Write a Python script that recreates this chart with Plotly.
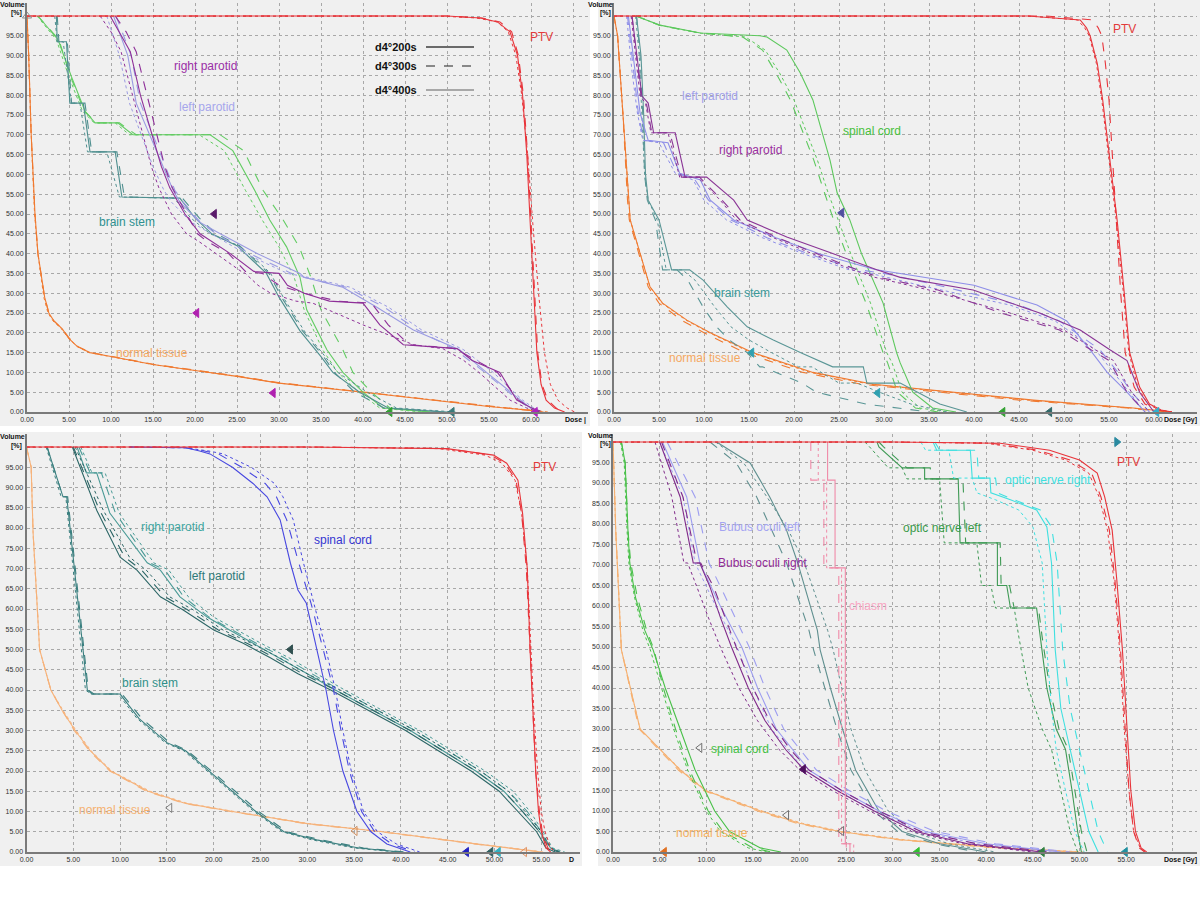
import plotly.graph_objects as go

W, H = 1200, 900
FONT = "Liberation Sans, Arial, sans-serif"

# ======================= PANEL 1 (top-left) =======================
P1_PTV_V = [100, 100, 99.5, 98.5, 96, 90, 80, 65, 48, 30, 15, 7, 3, 1, 0]
P1_PTV_D200 = [0, 50, 54, 56, 57.5, 58.4, 59.0, 59.5, 59.9, 60.3, 60.7, 61.2, 61.8, 62.8, 64]
P1_PTV_D300 = [0, 50, 54.2, 56.3, 57.7, 58.5, 59.1, 59.6, 60.0, 60.4, 60.8, 61.3, 62.0, 63.0, 64]
P1_PTV_D400 = [0, 49, 53.5, 56, 57.3, 58.2, 58.9, 59.6, 60.2, 60.9, 61.6, 62.3, 63.2, 64.3, 65.2]

P1_NT_V = [100, 90, 70, 50, 40, 33, 29, 25, 23, 21, 18.5, 16.5, 15, 14, 12, 10.5, 9, 7.3, 6.2, 5, 3.8, 2.6, 1.4, 0.4, 0]
P1_NT_D200 = [0, 0.2, 0.5, 0.95, 1.3, 1.8, 2.1, 2.6, 3.2, 4.2, 5.0, 6.0, 7.5, 10, 15, 20, 25, 30, 35, 40, 45, 50, 55, 60, 61]
P1_NT_D300 = [0, 0.2, 0.5, 0.95, 1.3, 1.8, 2.1, 2.6, 3.2, 4.2, 5.1, 6.1, 7.6, 10.2, 15.2, 20.2, 25.3, 30.3, 35.3, 40.3, 45.3, 50.3, 55.3, 60.2, 61.5]
P1_NT_D400 = [0, 0.2, 0.5, 0.9, 1.3, 1.7, 2.0, 2.5, 3.1, 4.1, 5.0, 6.0, 7.4, 9.9, 14.9, 19.9, 25.0, 30.0, 35.2, 40.2, 45.2, 50.2, 55.2, 60.4, 62]

P1_BS_V = [100, 93.5, 93.5, 78, 78, 65.7, 65.7, 54.3, 54, 49, 45, 42, 38, 35, 29, 20.5, 14, 10, 5, 1, 0]
P1_BS_D200 = [3.5, 3.6, 4.7, 5.1, 6.7, 7.5, 10.5, 11.3, 18.2, 20, 22, 25, 27, 28.5, 30, 32.5, 35, 36.4, 39.6, 43, 50]
P1_BS_D300 = [3.6, 3.8, 4.8, 5.3, 6.9, 7.7, 10.7, 11.6, 18.5, 20.5, 22.5, 25.3, 27.3, 28.8, 30.3, 32.8, 35.3, 36.6, 39, 42.5, 50]
P1_BS_D400 = [3.3, 3.6, 4.3, 5.3, 6.3, 7.2, 9.5, 11.0, 17.5, 19.5, 21.8, 25.2, 27.5, 29, 30.5, 33, 35.5, 37, 40.5, 44, 51]

P1_RP_V = [100, 96, 91, 80, 70, 62, 56.6, 50, 45, 43, 40, 35.5, 35, 32, 30, 28, 27.5, 22, 17, 16.5, 16, 13, 10, 3, 1, 0]
P1_RP_D200 = [9.9, 11, 12.3, 13.5, 14.9, 16, 17, 18.8, 20.6, 22, 24.2, 27, 30, 31, 33, 36, 40, 42, 44.8, 48, 51.2, 53, 56.3, 58.3, 60, 61]
P1_RP_D300 = [10.5, 11.8, 13, 14.3, 15.5, 16.4, 17.3, 19, 20.3, 21.5, 24, 26, 28, 30, 33, 37, 41, 43, 45.5, 48.5, 51, 53.5, 56, 58.5, 60, 61.5]
P1_RP_D400 = [8.7, 10, 11.2, 12.6, 13.8, 14.8, 15.7, 17.2, 19, 20.5, 22.5, 25.5, 26, 27.5, 29, 32, 34, 40, 46, 47.5, 49.5, 52, 53.8, 57.5, 59.5, 61]

P1_LP_V = [100, 90, 78, 70, 62, 56, 53, 48, 45, 40, 35, 34, 31.5, 26.5, 20.7, 15.7, 10, 3, 0]
P1_LP_D200 = [10.3, 12, 13, 14.6, 16.2, 17.4, 18.2, 20.5, 23, 27.4, 32.5, 33, 37.6, 41.6, 46, 51.5, 54.7, 58.7, 60.5]
P1_LP_D300 = [10.6, 12.4, 13.5, 15.0, 16.5, 17.6, 18.6, 20.6, 22.5, 26.5, 31.5, 33, 38, 42.5, 46.5, 51, 54.5, 58.5, 60.5]
P1_LP_D400 = [9.5, 11, 12.2, 13.6, 15, 16.3, 17.2, 19.5, 22, 26, 31, 33.5, 38.5, 43, 47, 52, 55.5, 59, 61]

P1_SC_V = [100, 94, 84.6, 76, 73, 73, 70, 70, 66, 56, 48.5, 41.7, 34, 25.8, 15.7, 10, 5, 1, 0]
P1_SC_D200 = [1.3, 3.7, 5.3, 6.9, 8.1, 10.8, 12.6, 21.8, 24.5, 27.1, 28.9, 30.9, 32.5, 33.3, 35.7, 37.6, 40, 42.4, 48]
P1_SC_D300 = [1.3, 3.8, 5.2, 6.8, 8.3, 11, 13, 23, 25.8, 28.1, 30.5, 32.4, 33.8, 35, 37.6, 38.8, 41, 43.2, 48]
P1_SC_D400 = [1.2, 3.5, 5, 6.6, 8, 10.5, 12.2, 20.5, 23.5, 26, 28, 30, 31.8, 33, 35.2, 37, 39.5, 42, 47]

P1_MK_D = [22.3, 20.2, 29.3, 43.2, 50.6, 60.5]
P1_MK_V = [50, 25, 4.8, 0, 0, 0]
P1_MK_C = ["#5a1a6a", "#b020b0", "#b020b0", "#30a030", "#3a7a7a", "#b020c0"]

# ======================= PANEL 2 (top-right) =======================
P2_PTV_V = [100, 100, 99, 97, 95, 88, 78.8, 63.6, 48.5, 30, 15, 6.3, 2, 0.5, 0]
P2_PTV_D200 = [0, 46, 51.8, 52.5, 52.9, 53.7, 54.3, 55.1, 55.9, 56.7, 57.3, 58.4, 59.5, 60.8, 62]
P2_PTV_D300 = [0, 48, 53.2, 53.8, 54.2, 54.6, 55.0, 55.4, 55.8, 56.3, 56.8, 57.8, 59, 60.5, 61.5]
P2_PTV_D400 = [0, 46, 51.5, 52.3, 52.8, 53.6, 54.2, 55, 55.8, 56.6, 57.2, 58.2, 59.3, 60.6, 62]

P2_SC_V = [100, 99.5, 97.7, 95.7, 95, 94.7, 91.4, 85.6, 78.8, 70.5, 63.6, 55.3, 48.5, 40, 27.5, 15, 12.4, 5, 1, 0]
P2_SC_D200 = [2.5, 3.0, 5.1, 9.6, 16.2, 17, 19.2, 20.7, 22.1, 23.1, 24, 24.8, 26.2, 27.5, 29.9, 31.4, 31.8, 33.2, 35.4, 38]
P2_SC_D300 = [2.5, 3.0, 5.0, 9.5, 13.5, 14.3, 16.5, 18, 19.6, 21, 22.2, 23.4, 24.4, 25.8, 28, 29.9, 30.4, 31.5, 33.5, 36]
P2_SC_D400 = [2.5, 3.0, 5.0, 9.5, 13.8, 14.6, 16.8, 18.4, 20, 21.4, 22.6, 23.8, 24.9, 26.3, 28.5, 30.3, 30.9, 32, 34, 37]

P2_LP_V = [100, 86, 75.5, 68.6, 68, 60.3, 58.6, 53.5, 48.5, 44, 40, 36, 35, 32, 27, 23, 15.7, 10, 5, 0]
P2_LP_D200 = [1.6, 2.3, 2.9, 3.8, 6, 7.3, 9.6, 10.7, 13.3, 18, 22.7, 29, 31.8, 40, 47, 50.3, 52.9, 54.8, 57, 59]
P2_LP_D300 = [1.5, 2.2, 2.7, 3.3, 5.5, 7, 9, 10.5, 13, 17, 21.5, 27, 30, 36, 45, 49.5, 54, 56, 57.5, 59.5]
P2_LP_D400 = [1.4, 2.0, 2.6, 3.2, 5, 6.8, 8.8, 10, 12.5, 16.5, 21, 26, 28.5, 34, 44, 49, 53.5, 55.5, 57.2, 59]

P2_RP_V = [100, 79.8, 78, 70.5, 70.5, 59.3, 59.3, 53.5, 48.5, 44.2, 40, 35.9, 34, 30.8, 25, 20.7, 15.7, 13, 5, 0]
P2_RP_D200 = [2, 3.1, 3.8, 4.4, 6.8, 7.9, 10.3, 13.3, 14.8, 19.2, 24.3, 29.2, 31.8, 39.9, 47.3, 51.8, 55.1, 57, 58.4, 60]
P2_RP_D300 = [2, 3.0, 3.6, 4.2, 6.2, 7.5, 9.5, 12, 14, 18, 22.5, 27, 29.5, 36, 43, 49.5, 53, 55, 57, 59]
P2_RP_D400 = [1.9, 2.9, 3.5, 4.1, 6, 7.3, 9.3, 11.8, 13.6, 17.5, 22, 26.5, 29, 35, 44, 50, 53.5, 55.5, 57.5, 59.5]

P2_BS_V = [100, 90, 75, 60, 53.5, 48.5, 35.9, 35.9, 33.3, 26.5, 21.5, 18.2, 15, 11.4, 11.4, 7.3, 7.3, 5, 2, 0]
P2_BS_D200 = [2.5, 3.0, 3.3, 3.5, 3.8, 5.0, 6.4, 8.4, 9.9, 12.6, 14.8, 17.7, 20.7, 24.3, 27.7, 28.1, 31.8, 33.7, 36.2, 39.2]
P2_BS_D300 = [2.5, 2.9, 3.2, 3.4, 3.7, 4.6, 5.4, 7.0, 8.2, 9.9, 11.4, 12.8, 14.8, 16.2, 16.5, 20.7, 20.9, 22.5, 28, 35]
P2_BS_D400 = [2.4, 2.8, 3.1, 3.4, 3.8, 4.8, 5.8, 7.6, 9.0, 11.2, 13, 15, 17.5, 20.5, 22, 25, 27, 29.5, 33, 37]

P2_NT_V = [100, 95, 75, 53.5, 48.5, 31.6, 27.5, 23.2, 20, 15, 10, 7, 6.3, 3, 1, 0]
P2_NT_D200 = [0, 0.4, 1.0, 1.6, 1.8, 4, 5.4, 8.1, 10.7, 15.4, 22.1, 28.8, 31.8, 46.6, 57.7, 62]
P2_NT_D300 = [0, 0.4, 1.0, 1.5, 1.7, 3.8, 5.0, 7.5, 10.0, 14.5, 21, 27.5, 30.5, 45, 57, 61.5]
P2_NT_D400 = [0, 0.4, 1.0, 1.6, 1.8, 4, 5.3, 8, 10.6, 15.2, 21.8, 28.5, 31.5, 46, 57.5, 62]

P2_MK_D = [25.3, 15.3, 29.3, 43.2, 48.4, 60.3]
P2_MK_V = [50.3, 15, 4.8, 0, 0, 0]
P2_MK_C = ["#5050a0", "#30a0b0", "#30a0b0", "#30a030", "#306868", "#30b0d0"]

# ======================= PANEL 3 (bottom-left) =======================
P3_PTV_V = [100, 100, 99.6, 98, 96, 91.8, 83.6, 70, 50, 35, 20, 10, 5, 1, 0]
P3_PTV_D200 = [0, 30, 44.9, 49.9, 51.3, 52.5, 53.0, 53.5, 53.8, 54.1, 54.4, 54.7, 55, 55.5, 56]
P3_PTV_D300 = [0, 32, 45, 49.6, 51.1, 52.3, 52.9, 53.4, 53.8, 54.1, 54.4, 54.8, 55.1, 55.7, 56.2]
P3_PTV_D400 = [0, 30, 44, 49, 50.8, 52.2, 52.9, 53.5, 53.9, 54.2, 54.6, 55, 55.4, 56, 56.5]

P3_SC_V = [100, 99.8, 99, 98.3, 95, 91, 87.7, 82, 71.3, 64.7, 61.4, 50, 40, 30, 20, 10, 5, 2, 0]
P3_SC_D200 = [11, 17, 18.5, 19.6, 22, 24.2, 25.7, 27.1, 28.2, 29, 29.9, 31.0, 32.0, 32.8, 33.8, 35.3, 36.8, 38.5, 41]
P3_SC_D300 = [11, 17, 19, 20.5, 23, 25.5, 26.7, 27.8, 29.1, 30, 30.4, 31.7, 32.8, 33.6, 34.5, 35.8, 37.2, 39, 41.5]
P3_SC_D400 = [11, 17, 19.5, 21, 24, 26.5, 27.4, 28.5, 29.6, 30.3, 30.7, 32, 33, 33.8, 34.7, 36, 37.5, 39.5, 42]

P3_RP_V = [100, 93.6, 93.6, 83.7, 71.4, 69.6, 63, 58, 54.8, 51.6, 48, 44, 40, 35, 30, 25, 20, 15, 10, 5, 1, 0]
P3_RP_D200 = [5.4, 6.4, 7.5, 8.9, 12.9, 14.3, 16.4, 19.3, 21.7, 24.2, 27, 30, 33, 37, 41, 44.5, 48, 51, 53, 54.8, 56, 57]
P3_RP_D300 = [5.6, 6.8, 8, 9.5, 13.2, 14.8, 16.8, 19.5, 22, 24.5, 27.5, 30.5, 33.5, 37.5, 41.5, 45, 48.5, 51.5, 53.5, 55, 56, 57]
P3_RP_D400 = [5.8, 7, 8.4, 9.9, 13.6, 15.2, 17.3, 20, 22.5, 25, 28, 31, 34, 38, 42, 45.5, 49, 52, 53.8, 55.2, 56.2, 57.5]

P3_LP_V = [100, 84.4, 72.8, 69.6, 63, 59.8, 54.8, 51.6, 48, 44, 40, 35, 30, 25, 20, 15, 10, 5, 1, 0]
P3_LP_D200 = [4.9, 7.5, 10, 11.8, 14.3, 16.7, 20, 23.1, 26, 29, 32.5, 36.5, 40.5, 44, 47.5, 50.5, 52.5, 54.5, 55.5, 56.5]
P3_LP_D300 = [5.0, 7.8, 10.5, 12.3, 14.8, 17.2, 20.5, 23.5, 26.5, 29.5, 33, 37, 41, 44.5, 48, 51, 53, 54.8, 55.8, 56.8]
P3_LP_D400 = [5.2, 8.2, 11, 12.8, 15.3, 17.8, 21, 24, 27, 30, 33.5, 37.5, 41.5, 45, 48.5, 51.5, 53.3, 55, 56, 57]

P3_BS_V = [100, 87.7, 87.7, 50, 40, 39, 39, 33, 27, 25, 20, 15, 10, 5, 3, 1, 0]
P3_BS_D200 = [2.2, 3.9, 4.3, 6, 6.5, 7, 10, 12, 15, 17, 19.5, 22, 24.5, 27.5, 31, 35.5, 40]
P3_BS_D300 = [2.2, 3.9, 4.4, 6.1, 6.6, 7.2, 10.2, 12.3, 15.3, 17.2, 19.8, 22.3, 24.8, 27.8, 31.5, 36, 40.5]
P3_BS_D400 = [2.1, 3.7, 4.2, 5.8, 6.3, 6.9, 9.8, 11.8, 14.8, 16.8, 19.3, 21.8, 24.3, 27.3, 30.5, 35, 39.5]

P3_NT_V = [100, 95, 79, 50, 40, 35, 30, 25, 20, 15, 12, 10, 7, 5, 2, 0]
P3_NT_D200 = [0, 0.5, 0.7, 1.4, 2.6, 3.8, 5.2, 6.8, 9, 13, 17, 22, 30, 38, 48, 55]
P3_NT_D300 = [0, 0.5, 0.7, 1.4, 2.6, 3.8, 5.1, 6.7, 8.9, 12.8, 16.8, 21.8, 29.8, 37.8, 47.8, 55]
P3_NT_D400 = [0, 0.5, 0.7, 1.4, 2.6, 3.9, 5.3, 6.9, 9.1, 13.2, 17.2, 22.2, 30.2, 38.2, 48.2, 55.2]

P3_MK_D = [28.2, 15.3, 35.1, 47.0, 49.6, 50.4, 53.2]
P3_MK_V = [50, 10.9, 5.2, 0, 0, 0, 0]
P3_MK_C = ["#305050", "#808080", "#d09060", "#2020c0", "#2f6060", "#30b0c0", "#e09060"]
P3_MK_OPEN = [False, True, True, False, False, False, True]

# ======================= PANEL 4 (bottom-right) =======================
P4_PTV_V = [100, 100, 99.7, 98, 95.6, 92.4, 86.6, 78.5, 66.3, 49.3, 30, 15, 5, 1, 0]
P4_PTV_D200 = [0, 30, 41.5, 46.8, 50, 51.9, 52.7, 53.5, 54, 54.6, 55.1, 55.5, 56, 56.6, 57.2]
P4_PTV_D300 = [0, 30, 40.5, 45.5, 49, 51.3, 52.3, 53.2, 53.8, 54.4, 54.9, 55.3, 55.8, 56.4, 57]
P4_PTV_D400 = [0, 30, 40, 45, 48.5, 51, 52.1, 53, 53.7, 54.3, 54.8, 55.3, 55.8, 56.5, 57]

P4_ONR_V = [100, 98, 98, 91.2, 91.2, 87.6, 85.9, 83.4, 79.3, 70.5, 49.3, 35, 25, 15, 5, 0]
P4_ONR_D200 = [34.3, 34.7, 38.3, 38.5, 40.4, 40.5, 42.6, 45.4, 46.5, 47, 47.4, 48, 49, 50, 51, 52]
P4_ONR_D300 = [34.5, 35, 39, 39.2, 41, 41.2, 43, 45.8, 47, 47.6, 48.2, 49, 50, 51, 52, 53]
P4_ONR_D400 = [33, 33.5, 36, 36.5, 38.5, 39, 41, 43.5, 45, 46, 46.5, 47, 47.5, 48.5, 49.5, 50.5]

P4_ONL_V = [100, 98.8, 93.7, 93.7, 91, 91, 75.4, 75.4, 65, 65, 59.5, 59.5, 52.4, 40, 30, 25, 15, 5, 0]
P4_ONL_D200 = [28.3, 28.5, 31, 33.4, 33.4, 37, 37.2, 41.2, 41.2, 42.2, 42.6, 45.4, 45.8, 46.5, 47.5, 48.5, 49.2, 49.8, 50.2]
P4_ONL_D300 = [28.5, 29, 31.5, 34, 34.2, 37.5, 37.8, 41.5, 41.6, 42.5, 43, 45.6, 46, 46.8, 47.8, 48.8, 49.5, 50.2, 50.8]
P4_ONL_D400 = [27, 27.5, 29.5, 31, 31.5, 35, 35.5, 39, 39.5, 40.5, 41, 43, 43.5, 44.5, 46, 47, 48, 49, 49.8]

P4_CH_V = [100, 90.7, 90.7, 69.3, 69.3, 2, 2, 0]
P4_CH_D200 = [23, 23, 23.8, 23.8, 24.9, 24.9, 25.4, 25.4]
P4_CH_D300 = [21.2, 21.2, 22.6, 22.6, 24.2, 24.2, 25.0, 25.0]
P4_CH_D400 = [22, 22, 22.9, 22.9, 24.5, 24.5, 25.8, 25.8]

P4_BOR_V = [100, 86.6, 70.5, 70.5, 64.6, 57.3, 50, 40, 32, 25, 20, 15, 10, 5, 2, 0]
P4_BOR_D200 = [5, 7.2, 8.6, 9.3, 10.4, 11.5, 12.7, 14.5, 16.3, 18.5, 20.5, 24, 28, 32.5, 38, 46]
P4_BOR_D300 = [5.2, 7.5, 9, 9.4, 10.8, 12, 13.2, 15, 16.8, 19, 21, 24.5, 28.5, 33, 39, 47]
P4_BOR_D400 = [4.5, 6.3, 7.6, 8, 9, 10.2, 11.5, 13.5, 15.5, 17.8, 20, 23.5, 27.5, 32, 37.5, 45]

P4_BOL_V = [100, 86.6, 70.5, 60, 50, 40, 30, 20, 15, 10, 5, 2, 0]
P4_BOL_D200 = [5.3, 7.9, 9.3, 11.5, 13.8, 15.5, 17.5, 21, 24.5, 28.5, 33.5, 40, 48]
P4_BOL_D300 = [5.8, 8.8, 10.3, 12.5, 14.6, 16.3, 18.3, 21.8, 25.3, 29.3, 34.5, 41, 49]
P4_BOL_D400 = [5.0, 7.5, 8.8, 11, 13.3, 15, 17, 20.5, 24, 28, 33, 39, 47]

P4_BS_V = [100, 94.9, 86.6, 78.5, 70.5, 62.2, 54.1, 49.3, 40, 30, 20, 10, 5, 2, 0]
P4_BS_D200 = [11.1, 14.7, 16.8, 18.6, 19.8, 20.9, 21.9, 22.2, 23.3, 24.6, 26, 28.5, 31, 35, 40]
P4_BS_D300 = [10.4, 13.2, 15.4, 17, 18.6, 19.8, 21, 21.5, 22.7, 24, 25.5, 28, 30.5, 34.5, 39]
P4_BS_D400 = [11, 14, 16.5, 18.8, 20.5, 21.8, 23, 23.6, 24.5, 25.5, 27, 29.5, 32, 36, 41]

P4_SC_V = [100, 94.9, 78.5, 70.5, 62.2, 54.1, 49.3, 40, 30, 20, 10, 5, 1, 0]
P4_SC_D200 = [0.9, 1.3, 1.6, 1.8, 2.4, 3.4, 4.3, 5.6, 7.2, 8.8, 10.9, 12.5, 15.8, 18]
P4_SC_D300 = [0.9, 1.3, 1.6, 1.9, 2.6, 3.6, 4.4, 5.4, 6.7, 8.2, 10.2, 11.8, 15, 17]
P4_SC_D400 = [0.8, 1.2, 1.5, 1.7, 2.3, 3.2, 4.0, 5.2, 6.5, 8.0, 10.0, 11.5, 14.5, 16.5]

P4_NT_V = [100, 78, 49.3, 30, 20, 15, 10, 7, 5, 3, 1, 0]
P4_NT_D200 = [0, 0.3, 0.9, 2.9, 7.2, 9.9, 15.8, 20, 24.3, 30.8, 41.5, 50]
P4_NT_D300 = [0, 0.3, 0.9, 2.8, 7.0, 9.7, 15.5, 19.7, 24.0, 30.5, 41.0, 49.5]
P4_NT_D400 = [0, 0.3, 0.9, 2.9, 7.3, 10.0, 16.0, 20.3, 24.6, 31.2, 42.0, 50.5]

P4_MK_D = [54.0, 9.3, 18.6, 20.4, 24.5, 5.5, 32.6, 46.0, 54.9]
P4_MK_V = [100, 25.4, 9.0, 20.2, 5.1, 0, 0, 0, 0]
P4_MK_C = ["#2a8aa0", "#707070", "#707070", "#501060", "#707070", "#e07020", "#30c030", "#308040", "#2090a0"]
P4_MK_SYM = ["triangle-right", "triangle-left-open", "triangle-left-open", "triangle-left",
             "triangle-left-open", "triangle-left", "triangle-left", "triangle-left", "triangle-left"]

# ---------------- panel geometry (pixels) ----------------
# (x_left_px, x_right_px, px_per_Gy, y_zero_px, y_top_px, px_per_pct, max tick label)
GEOM = {
    1: (27.0, 588.0, 8.4, 412.0, 3.0, 3.96, 60),
    2: (614.0, 1197.0, 9.0, 412.0, 3.0, 3.96, 60),
    3: (26.5, 580.0, 9.36, 852.0, 434.0, 4.05, 55),
    4: (613.0, 1197.0, 9.33, 852.0, 434.0, 4.10, 55),
}

fig = go.Figure()


def axref(p):
    return ("x" if p == 1 else f"x{p}"), ("y" if p == 1 else f"y{p}")


def curve(p, V, ds, color, width=1.1):
    xa, ya = axref(p)
    dashes = ["solid", "dash", "dot"]
    for d, dash in zip(ds, dashes):
        fig.add_trace(go.Scatter(x=d, y=V, mode="lines", xaxis=xa, yaxis=ya,
                                 line=dict(color=color, width=width if dash != "dot" else 1.0, dash=dash),
                                 hoverinfo="skip", showlegend=False))


def markers(p, D, V, colors, symbols):
    xa, ya = axref(p)
    fig.add_trace(go.Scatter(x=D, y=V, mode="markers", xaxis=xa, yaxis=ya,
                             marker=dict(symbol=symbols, color=colors, size=8,
                                         line=dict(width=1, color=colors)),
                             cliponaxis=False, hoverinfo="skip", showlegend=False))


# Panel 1
curve(1, P1_NT_V, [P1_NT_D200, P1_NT_D300, P1_NT_D400], "#f07a30")
curve(1, P1_SC_V, [P1_SC_D200, P1_SC_D300, P1_SC_D400], "#62cc62")
curve(1, P1_BS_V, [P1_BS_D200, P1_BS_D300, P1_BS_D400], "#4f8f8f")
curve(1, P1_LP_V, [P1_LP_D200, P1_LP_D300, P1_LP_D400], "#9a9ae2")
curve(1, P1_RP_V, [P1_RP_D200, P1_RP_D300, P1_RP_D400], "#8e2f98")
curve(1, P1_PTV_V, [P1_PTV_D200, P1_PTV_D300, P1_PTV_D400], "#e8343a")
markers(1, P1_MK_D + [0], P1_MK_V + [100], P1_MK_C + ["#909090"], ["triangle-left"] * 6 + ["triangle-up-open"])

# Panel 2
curve(2, P2_NT_V, [P2_NT_D200, P2_NT_D300, P2_NT_D400], "#f07a30")
curve(2, P2_SC_V, [P2_SC_D200, P2_SC_D300, P2_SC_D400], "#5cc85c")
curve(2, P2_BS_V, [P2_BS_D200, P2_BS_D300, P2_BS_D400], "#5a9696")
curve(2, P2_LP_V, [P2_LP_D200, P2_LP_D300, P2_LP_D400], "#8e8ee8")
curve(2, P2_RP_V, [P2_RP_D200, P2_RP_D300, P2_RP_D400], "#8a3596")
curve(2, P2_PTV_V, [P2_PTV_D200, P2_PTV_D300, P2_PTV_D400], "#e8343a")
markers(2, P2_MK_D, P2_MK_V, P2_MK_C, ["triangle-left"] * 6)

# Panel 3
curve(3, P3_NT_V, [P3_NT_D200, P3_NT_D300, P3_NT_D400], "#f6b27a")
curve(3, P3_BS_V, [P3_BS_D200, P3_BS_D300, P3_BS_D400], "#3a7f7f")
curve(3, P3_RP_V, [P3_RP_D200, P3_RP_D300, P3_RP_D400], "#4a9a96")
curve(3, P3_LP_V, [P3_LP_D200, P3_LP_D300, P3_LP_D400], "#2c6666")
curve(3, P3_SC_V, [P3_SC_D200, P3_SC_D300, P3_SC_D400], "#4848e0")
curve(3, P3_PTV_V, [P3_PTV_D200, P3_PTV_D300, P3_PTV_D400], "#e8343a")
markers(3, P3_MK_D, P3_MK_V, P3_MK_C,
        ["triangle-left-open" if o else "triangle-left" for o in P3_MK_OPEN])

# Panel 4
curve(4, P4_NT_V, [P4_NT_D200, P4_NT_D300, P4_NT_D400], "#f6b070")
curve(4, P4_SC_V, [P4_SC_D200, P4_SC_D300, P4_SC_D400], "#48c048")
curve(4, P4_BS_V, [P4_BS_D200, P4_BS_D300, P4_BS_D400], "#5f8f8f")
curve(4, P4_BOL_V, [P4_BOL_D200, P4_BOL_D300, P4_BOL_D400], "#9d9df0")
curve(4, P4_BOR_V, [P4_BOR_D200, P4_BOR_D300, P4_BOR_D400], "#802a8a")
curve(4, P4_CH_V, [P4_CH_D200, P4_CH_D300, P4_CH_D400], "#f08aa8")
curve(4, P4_ONL_V, [P4_ONL_D200, P4_ONL_D300, P4_ONL_D400], "#3f9a55")
curve(4, P4_ONR_V, [P4_ONR_D200, P4_ONR_D300, P4_ONR_D400], "#3fe0e0")
curve(4, P4_PTV_V, [P4_PTV_D200, P4_PTV_D300, P4_PTV_D400], "#e8343a")
markers(4, P4_MK_D, P4_MK_V, P4_MK_C, P4_MK_SYM)

# ---------------- axes ----------------
layout_axes = {}
for p, (xl, xr, sx, y0, yt, sy, tmax) in GEOM.items():
    xmax = (xr - xl) / sx
    ymax = (y0 - yt) / sy
    xs = [5 * i for i in range(int(xmax // 5) + 1)]
    ys = [5 * i for i in range(21)]
    xk = "xaxis" if p == 1 else f"xaxis{p}"
    yk = "yaxis" if p == 1 else f"yaxis{p}"
    xa, ya = axref(p)
    layout_axes[xk] = dict(
        domain=[xl / W, xr / W], range=[0, xmax], anchor=ya, automargin=False,
        tickvals=xs, ticktext=[f"{v:.2f}" if v <= tmax else "" for v in xs],
        showgrid=True, gridcolor="#a8a8a8", griddash="dot", gridwidth=1,
        zeroline=False, showline=True, linecolor="#7a7a7a", linewidth=2,
        ticks="", tickfont=dict(family=FONT, size=7, color="#303030"),
        fixedrange=True)
    layout_axes[yk] = dict(
        domain=[1 - y0 / H, 1 - yt / H], range=[0, ymax], anchor=xa, automargin=False,
        tickvals=ys, ticktext=[f"{v:.2f}" if v < 100 else "" for v in ys],
        showgrid=True, gridcolor="#a8a8a8", griddash="dot", gridwidth=1,
        zeroline=False, showline=True, linecolor="#7a7a7a", linewidth=2,
        ticks="", tickfont=dict(family=FONT, size=7, color="#303030"),
        fixedrange=True)

# ---------------- panel backgrounds ----------------
shapes = []
for (x0, y0, x1, y1) in [(0, 0, 590, 426), (598, 0, 1200, 426), (0, 432, 582, 866), (598, 432, 1200, 866)]:
    shapes.append(dict(type="rect", xref="paper", yref="paper", x0=x0 / W, x1=x1 / W,
                       y0=1 - y1 / H, y1=1 - y0 / H, fillcolor="#f0f0f0", line=dict(width=0),
                       layer="below"))

# legend samples (panel 1)
for yy, col, dash, wd in [(47, "#6a6a6a", "solid", 2), (66, "#202020", "dash", 1), (90, "#a8a8a8", "solid", 2)]:
    shapes.append(dict(type="line", xref="paper", yref="paper", x0=426 / W, x1=474 / W,
                       y0=1 - yy / H, y1=1 - yy / H, line=dict(color=col, width=wd, dash=dash)))

annotations = []


def label(text, x, y, color, size=12, bold=False, anchor="center"):
    annotations.append(dict(text=f"<b>{text}</b>" if bold else text, x=x / W, y=1 - y / H,
                            xref="paper", yref="paper", showarrow=False, xanchor=anchor,
                            yanchor="middle", font=dict(family=FONT, size=size, color=color)))


# legend texts
label("d4°200s", 396, 47, "#111111", 11, True)
label("d4°300s", 396, 66, "#111111", 11, True)
label("d4°400s", 396, 90, "#111111", 11, True)

# panel 1 labels
label("right parotid", 205, 66, "#9a2ea6")
label("left parotid", 207, 107, "#a6a6ec")
label("brain stem", 127, 222, "#2f9090")
label("normal tissue", 152, 353, "#f5a862")
label("PTV", 541, 37, "#e23a3a")
# panel 2 labels
label("left parotid", 710, 96, "#a0a0ea")
label("spinal cord", 872, 131, "#48c03c")
label("right parotid", 750, 150, "#9a2e9e")
label("brain stem", 742, 293, "#3a9a9a")
label("normal tissue", 705, 358, "#f5a862")
label("PTV", 1124, 29, "#e23a3a")
# panel 3 labels
label("right parotid", 172, 527, "#3fa6a0")
label("left parotid", 217, 576, "#2e7a7a")
label("spinal cord", 343, 540, "#3434d0")
label("brain stem", 150, 683, "#30908a")
label("normal tissue", 115, 810, "#f5b070")
label("PTV", 544, 467, "#e23a3a")
# panel 4 labels
label("PTV", 1128, 462, "#e23a3a")
label("optic nerve right", 1048, 480, "#40e0e0")
label("optic nerve left", 942, 528, "#3a9a4a")
label("Bubus oculi left", 760, 527, "#a4a4f2")
label("Bubus oculi right", 762, 563, "#902a96")
label("chiasm", 868, 606, "#f8a6c2")
label("spinal cord", 740, 749, "#44c044")
label("normal tissue", 712, 833, "#f5b060")

# axis captions
for (vx, vy, px_, py_) in [(12, 4, 16, 13), (600, 4, 605, 13), (12, 437, 16, 446), (600, 435, 605, 444)]:
    label("Volume", vx, vy, "#111111", 7, True)
    label("[%]", px_, py_, "#111111", 7, True)
label("Dose |", 588, 420, "#111111", 7, True, anchor="right")
label("Dose [Gy]", 1199, 420, "#111111", 7, True, anchor="right")
label("D", 576, 859, "#111111", 7, True, anchor="right")
label("Dose [Gy]", 1199, 860, "#111111", 7, True, anchor="right")

fig.update_layout(
    width=W, height=H, margin=dict(l=0, r=0, t=0, b=0, autoexpand=False),
    paper_bgcolor="#ffffff", plot_bgcolor="#f0f0f0",
    showlegend=False, shapes=shapes, annotations=annotations,
    font=dict(family=FONT), **layout_axes)

fig.write_html("out.html", config={"displayModeBar": False},
               post_script="document.body.style.margin='0px';document.body.style.overflow='hidden';")
